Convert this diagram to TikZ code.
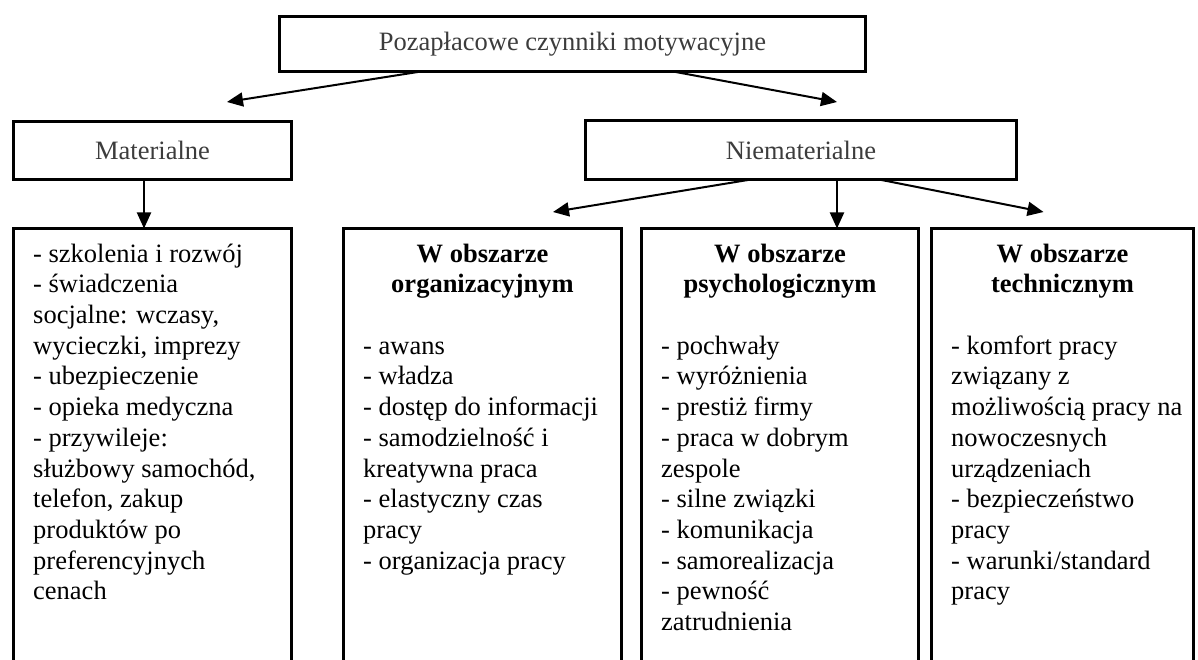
\documentclass[tikz,border=0pt]{standalone}
\usepackage{fontspec}
\setmainfont{Liberation Serif}
\usetikzlibrary{arrows.meta}
\definecolor{labelgray}{HTML}{3C3C3C}
\tikzset{
  txt/.style={font=\fontsize{26.5}{30.7}\selectfont},
  headbox/.style={draw, line width=3pt, rectangle, inner sep=0pt, outer sep=0pt,
    txt, text=labelgray, anchor=north west},
  listbox/.style={draw, line width=3pt, rectangle, inner sep=0pt, outer sep=0pt,
    anchor=north west, minimum height=520pt},
  listtext/.style={txt, align=left, inner sep=0pt, anchor=north west},
  areatitle/.style={txt, font=\fontsize{26.5}{30.7}\selectfont\bfseries, align=center,
    inner sep=0pt, anchor=north},
  arr/.style={line width=2pt, -{Triangle[length=16pt,width=14pt]}},
}
\begin{document}
\begin{tikzpicture}[x=1pt,y=-1pt]
  \path[use as bounding box] (0,0) rectangle (1198,660);
  \clip (0,0) rectangle (1198,660);
  \fill[white] (0,0) rectangle (1198,660);

  % upper level
  \node[headbox, minimum width=586pt, minimum height=55pt] (top) at (279.5,16.5)
    {Pozapłacowe czynniki motywacyjne};
  \node[headbox, minimum width=278pt, minimum height=58pt] (mat) at (13.5,121.5)
    {Materialne};
  \node[headbox, minimum width=431pt, minimum height=58.5pt] (niem) at (585.5,121)
    {Niematerialne};

  % lower boxes (open at the bottom edge)
  \node[listbox, minimum width=278pt] (b1) at (13.5,228.5) {};
  \node[listbox, minimum width=278pt] (b2) at (343.5,228.5) {};
  \node[listbox, minimum width=277pt] (b3) at (641.5,228.5) {};
  \node[listbox, minimum width=262pt] (b4) at (931.5,228.5) {};

  % connectors
  \draw[arr] ([xshift=-151.5pt]top.south) -- ([xshift=74.5pt,yshift=19.5pt]mat.north);
  \draw[arr] ([xshift=100.5pt]top.south) -- ([xshift=36pt,yshift=19pt]niem.north);
  \draw[arr] ([xshift=-8.5pt]mat.south) -- ([xshift=-8.5pt]b1.north);
  \draw[arr] ([xshift=-50pt]niem.south) -- ([xshift=70.5pt,yshift=16.5pt]b2.north);
  \draw[arr] ([xshift=36pt]niem.south) -- ([xshift=57pt]b3.north);
  \draw[arr] ([xshift=78pt]niem.south) -- ([xshift=-19pt,yshift=16.5pt]b4.north);

  % contents
  \node[listtext] (t1) at (33,240.5) {\strut- szkolenia i rozwój\\
    - świadczenia\\ socjalne: wczasy,\\ wycieczki, imprezy\\ - ubezpieczenie\\
    - opieka medyczna\\ - przywileje:\\ służbowy samochód,\\ telefon, zakup\\
    produktów po\\ preferencyjnych\\ cenach};

  \node[areatitle] (h2) at (482.5,240.5) {\strut W obszarze\\ organizacyjnym};
  \node[listtext] (t2) at (363,332.6) {\strut- awans\\ - władza\\
    - dostęp do informacji\\ - samodzielność i\\ kreatywna praca\\
    - elastyczny czas\\ pracy\\ - organizacja pracy};

  \node[areatitle] (h3) at (780,240.5) {\strut W obszarze\\ psychologicznym};
  \node[listtext] (t3) at (661,332.6) {\strut- pochwały\\ - wyróżnienia\\
    - prestiż firmy\\ - praca w dobrym\\ zespole\\ - silne związki\\
    - komunikacja\\ - samorealizacja\\ - pewność\\ zatrudnienia};

  \node[areatitle] (h4) at (1062.5,240.5) {\strut W obszarze\\ technicznym};
  \node[listtext] (t4) at (951,332.6) {\strut- komfort pracy\\ związany z\\
    możliwością pracy na\\ nowoczesnych\\ urządzeniach\\ - bezpieczeństwo\\
    pracy\\ - warunki/standard\\ pracy};
\end{tikzpicture}
\end{document}
